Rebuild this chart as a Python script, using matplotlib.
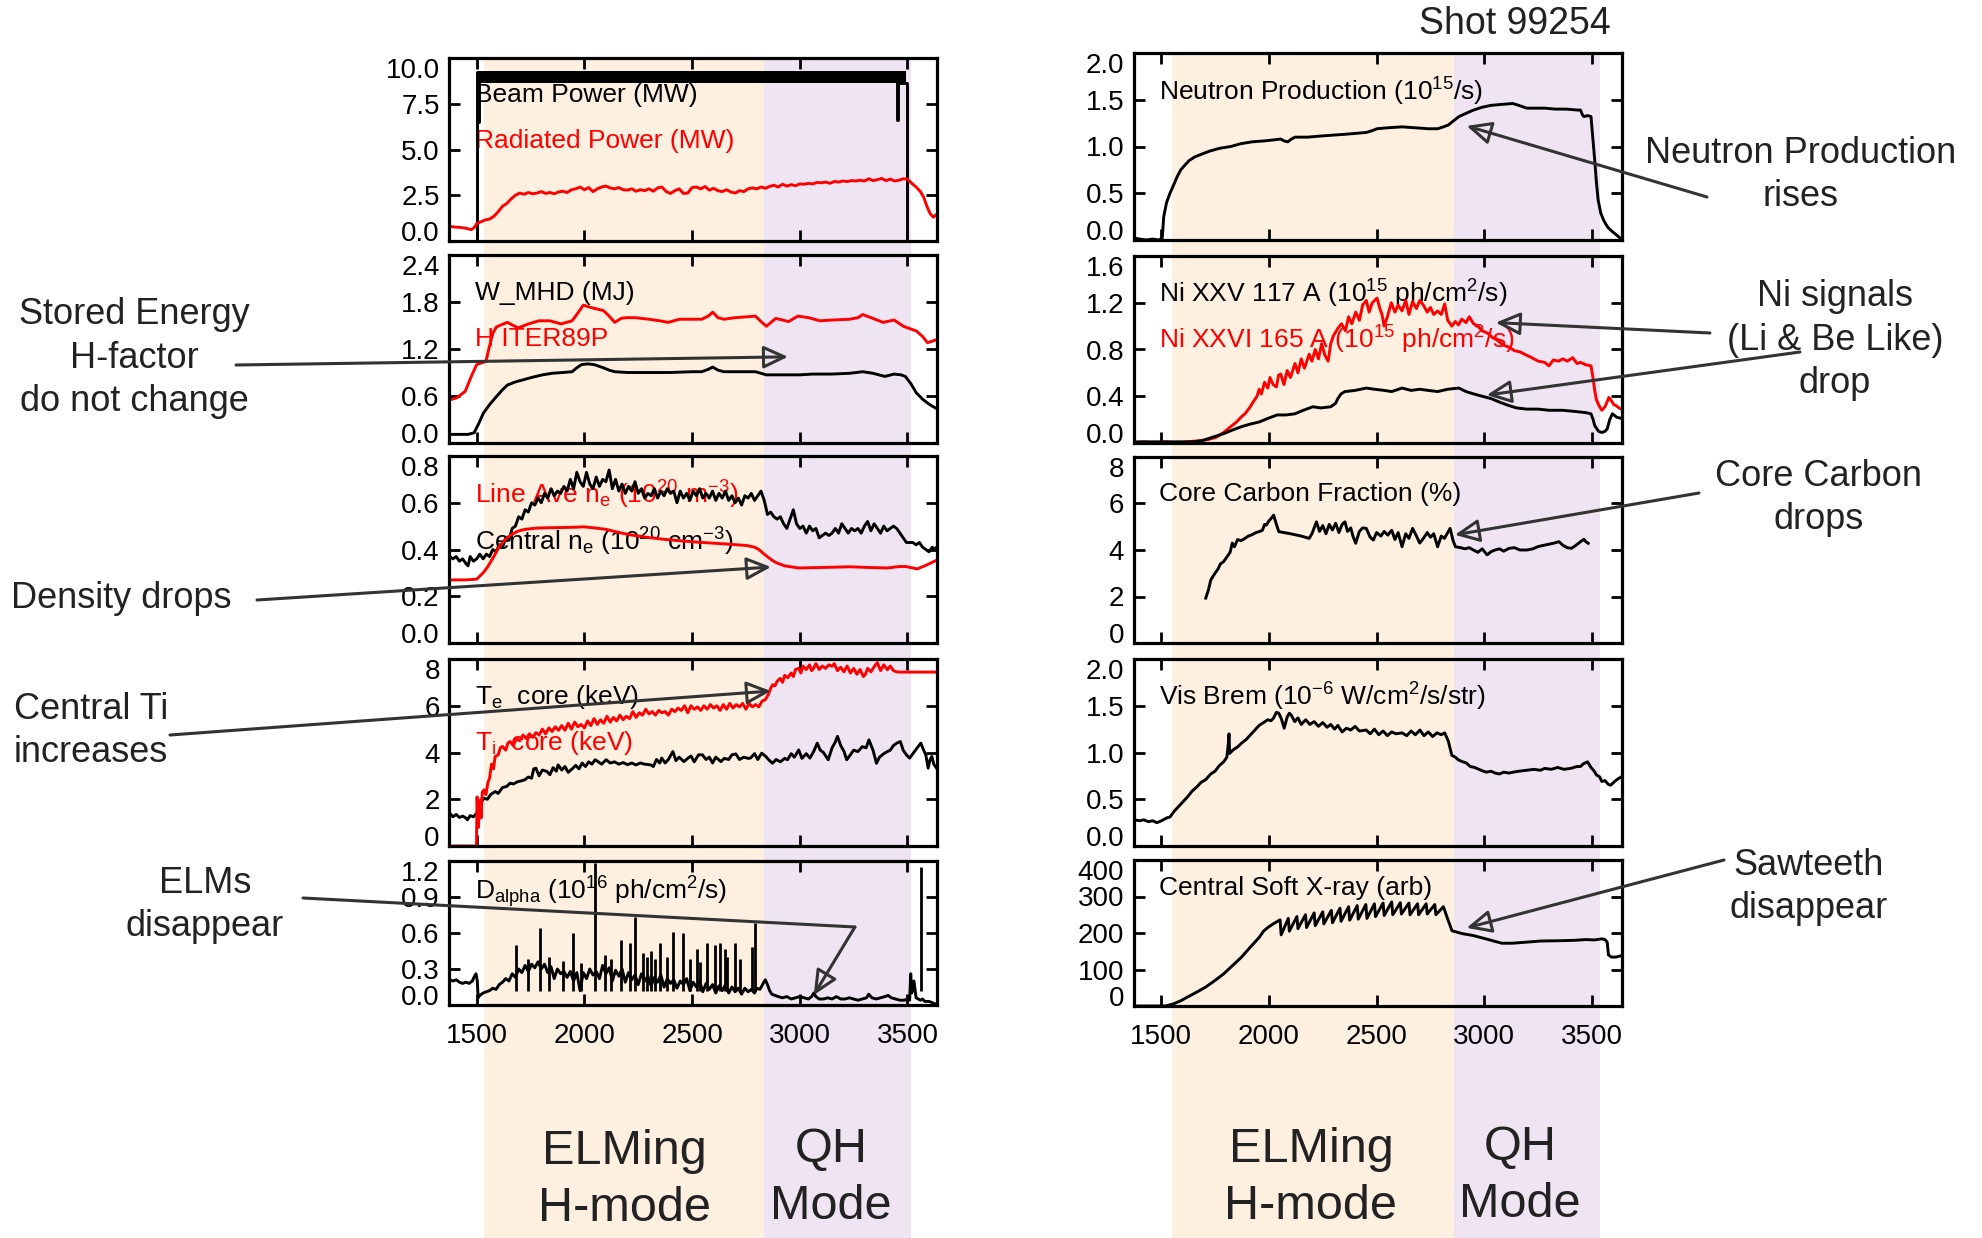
import numpy as np
import matplotlib
matplotlib.use("Agg")
import matplotlib.pyplot as plt
from matplotlib.patches import Rectangle
from matplotlib.transforms import blended_transform_factory

plt.rcParams['font.family'] = ['Liberation Sans', 'DejaVu Sans']
plt.rcParams['mathtext.fontset'] = 'custom'
plt.rcParams['mathtext.rm'] = 'Liberation Sans'
plt.rcParams['mathtext.it'] = 'Liberation Sans'

# ---------------- data (time in ms) ----------------
shot = 99254
xticks = [1500, 2000, 2500, 3000, 3500]

# phase bands (ELMing H-mode start, QH start, QH end) for each column
bands_left = [1532, 2834, 3516]
bands_right = [1549, 2857, 3539]

# beam power (MW): envelope of fast modulation + on/off edges
beam_t = [1374, 1500, 1500, 1504, 1504, 1510, 1510, 3452, 3452, 3458, 3458, 3496, 3496, 3637]
beam_p = [0, 0, 9.25, 9.25, 6.5, 6.5, 9.25, 9.25, 6.6, 6.6, 8.65, 8.65, 0, 0]
beam_on = [1512, 3494]
beam_lo, beam_hi = 8.62, 9.3

rad_power = [(1375,0.80),(1400,0.76),(1425,0.74),(1450,0.70),(1475,0.62),(1490,0.75),(1500,0.95),(1520,1.05),
    (1540,1.15),(1560,1.20),(1580,1.35),(1600,1.60),(1620,1.90),(1640,2.05),(1660,2.30),(1680,2.50),(1700,2.62),
    (1720,2.55),(1740,2.65),(1760,2.58),(1780,2.62),(1800,2.70),(1820,2.60),(1840,2.65),(1860,2.58),(1880,2.68),
    (1900,2.72),(1920,2.65),(1940,2.80),(1960,2.85),(1980,2.95),(2000,2.80),(2020,2.92),(2040,2.70),(2060,2.85),
    (2080,2.95),(2100,3.00),(2120,2.90),(2140,2.85),(2160,2.92),(2180,2.80),(2200,2.78),(2220,2.85),(2240,2.72),
    (2260,2.80),(2280,2.75),(2300,2.85),(2320,2.72),(2340,2.90),(2360,2.95),(2380,2.70),(2400,2.60),(2420,2.75),
    (2440,2.85),(2460,2.60),(2480,2.62),(2500,2.92),(2520,2.95),(2540,2.85),(2560,2.98),(2580,2.78),(2600,2.88),
    (2620,2.75),(2640,2.70),(2660,2.80),(2680,2.68),(2700,2.62),(2720,2.75),(2740,2.70),(2760,2.85),(2780,2.90),
    (2800,2.85),(2820,2.95),(2840,2.88),(2860,2.98),(2880,3.05),(2900,2.95),(2920,3.10),(2940,3.00),(2960,3.08),
    (2980,3.02),(3000,3.12),(3020,3.10),(3040,3.15),(3060,3.12),(3080,3.20),(3100,3.18),(3120,3.22),(3140,3.15),
    (3160,3.25),(3180,3.22),(3200,3.28),(3220,3.25),(3240,3.30),(3260,3.28),(3280,3.32),(3300,3.28),(3320,3.40),
    (3340,3.30),(3360,3.35),(3380,3.42),(3400,3.30),(3420,3.38),(3440,3.28),(3460,3.32),(3480,3.40),(3500,3.38),
    (3520,3.15),(3540,2.95),(3560,2.70),(3575,2.40),(3590,1.90),(3605,1.50),(3620,1.30),(3635,1.45)]

w_mhd = [(1375,0.11),(1420,0.11),(1460,0.11),(1488,0.13),(1510,0.25),(1531,0.38),(1560,0.49),(1591,0.59),
    (1620,0.68),(1643,0.74),(1680,0.78),(1720,0.81),(1760,0.84),(1806,0.87),(1850,0.89),(1900,0.90),(1943,0.91),
    (1965,0.96),(1986,1.00),(2015,1.01),(2046,1.00),(2089,0.96),(2115,0.93),(2141,0.91),(2200,0.90),(2287,0.90),
    (2400,0.90),(2500,0.91),(2545,0.91),(2575,0.94),(2596,0.97),(2620,0.93),(2648,0.91),(2700,0.91),(2750,0.91),
    (2794,0.91),(2820,0.89),(2845,0.87),(2900,0.87),(3000,0.87),(3060,0.88),(3150,0.88),(3232,0.89),(3292,0.91),
    (3340,0.89),(3395,0.85),(3438,0.88),(3470,0.87),(3490,0.85),(3515,0.76),(3541,0.64),(3570,0.56),(3593,0.51),
    (3615,0.47),(3635,0.44)]

h_iter89 = [(1375,0.55),(1410,0.58),(1447,0.66),(1475,0.85),(1500,1.00),(1520,1.02),(1543,1.04),(1560,1.24),
    (1575,1.40),(1591,1.48),(1615,1.51),(1643,1.54),(1670,1.50),(1694,1.47),(1740,1.52),(1789,1.56),(1840,1.56),
    (1892,1.52),(1943,1.56),(1970,1.66),(1995,1.76),(2029,1.73),(2060,1.71),(2089,1.69),(2115,1.62),(2141,1.54),
    (2170,1.59),(2192,1.60),(2235,1.60),(2300,1.58),(2350,1.56),(2390,1.54),(2441,1.58),(2500,1.58),(2545,1.58),
    (2575,1.62),(2596,1.67),(2620,1.60),(2648,1.58),(2700,1.60),(2750,1.61),(2794,1.62),(2820,1.55),(2845,1.49),
    (2888,1.59),(2920,1.57),(2948,1.55),(2991,1.62),(3040,1.60),(3094,1.56),(3150,1.57),(3232,1.58),(3270,1.60),
    (3292,1.64),(3340,1.59),(3387,1.54),(3438,1.57),(3481,1.49),(3541,1.43),(3570,1.36),(3593,1.28),(3615,1.30),
    (3635,1.32)]

ne_central = [(1375,0.37),(1390,0.36),(1405,0.37),(1420,0.35),(1435,0.36),(1450,0.34),(1460,0.33),(1470,0.37),
    (1485,0.35),(1500,0.36),(1515,0.38),(1530,0.36),(1545,0.38),(1560,0.37),(1575,0.40),(1590,0.39),(1605,0.42),
    (1620,0.41),(1635,0.45),(1650,0.44),(1665,0.49),(1680,0.50),(1695,0.54),(1710,0.53),(1725,0.57),(1740,0.56),
    (1755,0.60),(1770,0.59),(1785,0.62),(1800,0.60),(1815,0.64),(1830,0.62),(1845,0.66),(1860,0.63),(1875,0.65),
    (1890,0.64),(1905,0.67),(1920,0.65),(1935,0.70),(1950,0.66),(1965,0.73),(1980,0.69),(1995,0.67),(2010,0.73),
    (2025,0.68),(2040,0.66),(2055,0.71),(2070,0.67),(2085,0.70),(2100,0.69),(2115,0.74),(2130,0.66),(2145,0.70),
    (2160,0.65),(2175,0.68),(2190,0.64),(2205,0.67),(2220,0.65),(2235,0.69),(2250,0.64),(2265,0.66),(2280,0.62),
    (2295,0.64),(2310,0.63),(2325,0.66),(2340,0.62),(2355,0.65),(2370,0.63),(2385,0.66),(2400,0.64),(2415,0.65),
    (2430,0.60),(2445,0.65),(2460,0.62),(2475,0.64),(2490,0.61),(2505,0.65),(2520,0.63),(2535,0.66),(2550,0.62),
    (2565,0.64),(2580,0.62),(2595,0.65),(2610,0.61),(2625,0.64),(2640,0.62),(2655,0.65),(2670,0.61),(2685,0.63),
    (2700,0.60),(2715,0.62),(2730,0.59),(2745,0.63),(2760,0.62),(2775,0.64),(2790,0.61),(2805,0.63),(2820,0.65),
    (2835,0.61),(2850,0.55),(2865,0.56),(2880,0.54),(2895,0.53),(2910,0.54),(2925,0.51),(2940,0.49),(2955,0.53),
    (2970,0.57),(2985,0.51),(3000,0.49),(3015,0.50),(3030,0.47),(3045,0.50),(3060,0.48),(3075,0.49),(3090,0.45),
    (3105,0.46),(3120,0.47),(3135,0.46),(3150,0.47),(3165,0.49),(3180,0.47),(3195,0.51),(3210,0.49),(3225,0.47),
    (3240,0.49),(3255,0.48),(3270,0.49),(3285,0.47),(3300,0.50),(3315,0.52),(3330,0.48),(3345,0.51),(3360,0.49),
    (3375,0.47),(3390,0.50),(3405,0.48),(3420,0.49),(3435,0.50),(3450,0.49),(3465,0.47),(3480,0.45),(3495,0.43),
    (3510,0.43),(3525,0.43),(3540,0.42),(3555,0.43),(3570,0.41),(3585,0.40),(3600,0.39),(3615,0.41),(3625,0.40),
    (3635,0.41)]

ne_line = [(1375,0.27),(1450,0.27),(1500,0.273),(1530,0.30),(1552,0.327),(1580,0.37),(1603,0.41),(1630,0.44),
    (1655,0.46),(1690,0.478),(1723,0.486),(1770,0.491),(1826,0.493),(1900,0.494),(1950,0.495),(1998,0.497),
    (2050,0.492),(2101,0.486),(2150,0.475),(2205,0.464),(2290,0.452),(2376,0.443),(2460,0.436),(2548,0.43),
    (2650,0.424),(2754,0.417),(2790,0.41),(2810,0.40),(2835,0.38),(2857,0.364),(2875,0.352),(2892,0.343),
    (2930,0.33),(2995,0.321),(3100,0.323),(3235,0.326),(3320,0.323),(3407,0.321),(3460,0.327),(3493,0.327),
    (3520,0.322),(3545,0.317),(3580,0.33),(3610,0.343),(3635,0.354)]

ti_core = [(1375,0.0),(1499,0.0),(1502,2.1),(1506,1.0),(1509,0.8),(1513,1.8),(1517,1.97),(1521,1.2),(1526,2.3),
    (1534,2.4),(1543,2.2),(1552,2.7),(1560,2.9),(1569,3.5),(1578,3.3),(1586,3.83),(1600,3.9),(1610,4.2),(1620,4.26),
    (1635,4.1),(1645,4.4),(1655,4.47),(1670,4.3),(1685,4.6),(1700,4.5),(1715,4.75),(1730,4.6),(1745,4.8),(1760,4.65),
    (1775,4.85),(1790,4.75),(1805,5.0),(1820,4.8),(1835,5.05),(1850,4.9),(1865,5.1),(1880,4.95),(1895,5.15),
    (1910,4.95),(1925,5.25),(1940,5.0),(1955,5.3),(1970,5.1),(1985,5.2),(2000,5.05),(2015,5.35),(2030,5.15),
    (2045,5.45),(2060,5.2),(2075,5.4),(2090,5.25),(2105,5.55),(2120,5.3),(2135,5.5),(2150,5.35),(2165,5.6),
    (2180,5.4),(2195,5.55),(2210,5.45),(2225,5.75),(2240,5.5),(2255,5.7),(2270,5.6),(2285,5.85),(2300,5.65),
    (2315,5.75),(2330,5.6),(2345,5.8),(2360,5.7),(2375,5.75),(2390,5.6),(2405,5.85),(2420,5.75),(2435,5.9),
    (2450,5.8),(2465,6.0),(2480,5.7),(2495,6.0),(2510,5.85),(2525,5.95),(2540,5.8),(2555,6.0),(2570,5.85),
    (2585,6.05),(2600,5.9),(2615,6.0),(2630,5.8),(2645,6.05),(2660,5.85),(2675,6.1),(2690,5.9),(2705,6.05),
    (2720,5.95),(2735,6.1),(2750,5.85),(2765,6.1),(2780,5.95),(2795,6.05),(2810,5.95),(2825,6.2),(2840,6.26),
    (2855,6.5),(2865,6.75),(2874,6.9),(2885,6.85),(2895,7.05),(2909,7.17),(2920,7.0),(2930,7.3),(2945,7.2),
    (2960,7.4),(2970,7.25),(2980,7.55),(2995,7.6),(3005,7.4),(3015,7.7),(3030,7.55),(3045,7.75),(3055,7.5),
    (3064,7.6),(3075,7.8),(3090,7.55),(3105,7.7),(3120,7.6),(3135,7.75),(3149,7.69),(3160,7.8),(3175,7.5),
    (3190,7.65),(3205,7.45),(3220,7.7),(3235,7.4),(3250,7.6),(3265,7.35),(3280,7.55),(3295,7.25),(3304,7.33),
    (3315,7.6),(3330,7.45),(3347,7.69),(3360,7.85),(3375,7.5),(3390,7.75),(3407,7.54),(3420,7.7),(3435,7.5),
    (3450,7.45),(3460,7.44),(3635,7.44)]

te_core = [(1375,1.40),(1390,1.25),(1405,1.35),(1420,1.22),(1435,1.28),(1450,1.20),(1457,1.12),(1470,1.30),
    (1485,1.25),(1500,1.40),(1515,1.80),(1534,2.04),(1550,2.00),(1565,2.20),(1586,2.33),(1600,2.25),(1620,2.50),
    (1640,2.55),(1655,2.69),(1670,2.65),(1690,2.75),(1705,2.78),(1723,2.83),(1740,2.95),(1755,2.90),(1765,3.30),
    (1775,3.33),(1790,3.00),(1805,3.25),(1826,3.19),(1840,3.05),(1855,3.35),(1870,3.20),(1878,3.47),(1895,3.25),
    (1910,3.40),(1925,3.15),(1947,3.33),(1960,3.45),(1975,3.30),(1990,3.55),(2005,3.40),(2020,3.60),(2035,3.50),
    (2050,3.69),(2065,3.60),(2080,3.50),(2101,3.69),(2120,3.55),(2140,3.60),(2160,3.50),(2180,3.57),(2200,3.48),
    (2220,3.55),(2239,3.47),(2260,3.55),(2280,3.50),(2308,3.47),(2320,3.40),(2335,3.70),(2350,3.55),(2359,3.76),
    (2375,3.55),(2390,3.70),(2411,4.04),(2425,3.65),(2440,3.80),(2462,3.61),(2480,3.75),(2495,3.85),(2510,3.60),
    (2530,3.90),(2548,3.90),(2565,3.70),(2580,3.80),(2595,3.55),(2610,3.80),(2634,3.61),(2650,3.75),(2670,3.70),
    (2685,3.90),(2703,3.94),(2720,3.70),(2740,3.80),(2760,3.75),(2771,3.76),(2790,3.95),(2805,3.70),(2823,3.97),
    (2840,3.85),(2860,3.65),(2874,3.54),(2890,3.70),(2910,3.60),(2930,3.75),(2943,3.69),(2960,3.95),(2975,3.80),
    (2995,4.11),(3010,3.75),(3030,3.95),(3047,3.76),(3065,4.05),(3081,4.40),(3095,4.10),(3110,4.00),(3132,3.69),
    (3150,4.20),(3165,4.45),(3175,4.69),(3190,4.30),(3205,4.05),(3218,3.69),(3235,3.90),(3250,4.10),(3270,4.04),
    (3290,4.25),(3308,4.20),(3321,4.54),(3340,4.10),(3356,3.54),(3370,3.80),(3390,3.95),(3407,4.04),(3420,4.10),
    (3435,4.30),(3450,4.40),(3467,4.47),(3480,4.10),(3495,3.90),(3510,3.76),(3525,3.95),(3545,4.20),(3562,4.40),
    (3575,4.10),(3585,3.90),(3596,3.33),(3605,3.70),(3613,3.83),(3622,3.50),(3635,3.33)]

d_alpha = [(1375,0.21),(1390,0.20),(1405,0.21),(1420,0.19),(1435,0.18),(1450,0.19),(1465,0.18),(1480,0.20),
    (1490,0.24),(1497,0.26),(1503,0.20),(1507,0.06),(1515,0.08),(1530,0.10),(1545,0.11),(1560,0.12),(1575,0.14),
    (1590,0.13),(1605,0.17),(1620,0.19),(1635,0.22),(1650,0.20),(1665,0.26),(1680,0.23),(1695,0.30),(1710,0.27),
    (1725,0.33),(1740,0.28),(1755,0.34),(1770,0.31),(1785,0.36),(1800,0.30),(1815,0.34),(1830,0.27),(1845,0.32),
    (1860,0.22),(1875,0.30),(1890,0.26),(1905,0.28),(1920,0.23),(1935,0.28),(1950,0.20),(1965,0.27),(1980,0.12),
    (1995,0.27),(2010,0.22),(2025,0.30),(2040,0.25),(2055,0.28),(2070,0.22),(2085,0.33),(2100,0.26),(2115,0.31),
    (2130,0.20),(2145,0.29),(2160,0.24),(2175,0.30),(2190,0.19),(2205,0.27),(2220,0.21),(2235,0.25),(2250,0.17),
    (2265,0.26),(2280,0.20),(2295,0.24),(2310,0.16),(2325,0.23),(2340,0.19),(2355,0.25),(2370,0.15),(2385,0.22),
    (2400,0.18),(2415,0.21),(2430,0.14),(2445,0.20),(2460,0.17),(2475,0.22),(2490,0.12),(2505,0.19),(2520,0.15),
    (2535,0.20),(2550,0.11),(2565,0.18),(2580,0.13),(2595,0.17),(2610,0.10),(2625,0.16),(2640,0.12),(2655,0.17),
    (2670,0.10),(2685,0.15),(2700,0.11),(2715,0.14),(2730,0.09),(2745,0.14),(2760,0.11),(2775,0.13),(2790,0.10),
    (2800,0.14),(2815,0.13),(2830,0.18),(2840,0.21),(2850,0.17),(2860,0.12),(2870,0.09),(2885,0.08),(2900,0.07),
    (2920,0.06),(2940,0.07),(2960,0.05),(2980,0.06),(3000,0.07),(3020,0.06),(3040,0.05),(3055,0.07),(3065,0.10),
    (3075,0.07),(3090,0.05),(3110,0.05),(3130,0.06),(3150,0.05),(3170,0.07),(3190,0.05),(3210,0.05),(3230,0.06),
    (3250,0.05),(3270,0.04),(3290,0.05),(3310,0.06),(3320,0.09),(3335,0.06),(3355,0.05),(3375,0.06),(3395,0.07),
    (3410,0.08),(3425,0.06),(3445,0.05),(3465,0.04),(3485,0.04),(3500,0.05),(3510,0.04),(3515,0.26),(3520,0.10),
    (3530,0.20),(3540,0.06),(3550,0.05),(3560,0.04),(3570,0.05),(3580,0.03),(3600,0.03),(3615,0.02),(3625,0.01),
    (3635,0.01)]

# ELM spikes: time, peak height
elm_t = [1684, 1737, 1792, 1838, 1900, 1946, 1985, 2048, 2095, 2126, 2172, 2211, 2234, 2272, 2292, 2311, 2330,
         2350, 2383, 2411, 2457, 2490, 2522, 2537, 2568, 2606, 2629, 2652, 2660, 2698, 2721, 2777, 2791, 3562]
elm_h = [0.50, 0.38, 0.64, 0.40, 0.37, 0.60, 0.35, 1.18, 0.42, 0.38, 0.54, 0.52, 0.73, 0.43, 0.40, 0.45, 0.38,
         0.52, 0.40, 0.61, 0.60, 0.38, 0.47, 0.36, 0.52, 0.50, 0.52, 0.47, 0.40, 0.52, 0.38, 0.48, 0.68, 1.15]

neutron = [(1376,0.02),(1400,0.01),(1430,0.00),(1460,0.01),(1490,0.00),(1505,0.02),(1512,0.25),(1525,0.40),
    (1541,0.50),(1560,0.60),(1575,0.68),(1591,0.75),(1610,0.80),(1630,0.85),(1657,0.89),(1690,0.92),(1724,0.95),
    (1770,0.98),(1823,1.00),(1870,1.03),(1922,1.05),(1980,1.06),(2020,1.07),(2055,1.08),(2070,1.06),(2088,1.05),
    (2105,1.08),(2121,1.10),(2180,1.10),(2230,1.11),(2287,1.12),(2350,1.13),(2400,1.14),(2452,1.15),(2480,1.17),
    (2502,1.19),(2550,1.20),(2618,1.21),(2680,1.20),(2740,1.19),(2783,1.19),(2810,1.21),(2833,1.23),(2860,1.28),
    (2882,1.32),(2920,1.36),(2950,1.39),(2990,1.42),(3031,1.44),(3080,1.45),(3131,1.46),(3160,1.44),(3197,1.41),
    (3240,1.41),(3280,1.41),(3330,1.40),(3380,1.40),(3430,1.39),(3446,1.39),(3455,1.34),(3462,1.32),(3480,1.33),
    (3495,1.32),(3503,1.10),(3512,0.86),(3520,0.62),(3528,0.43),(3540,0.29),(3552,0.22),(3561,0.18),(3575,0.13),
    (3594,0.09),(3610,0.06),(3625,0.03),(3638,0.01)]

ni_xxv = [(1376,0.01),(1450,0.01),(1550,0.01),(1650,0.01),(1690,0.02),(1740,0.05),(1790,0.08),(1830,0.11),
    (1873,0.14),(1910,0.16),(1955,0.18),(1995,0.21),(2038,0.24),(2080,0.24),(2121,0.25),(2160,0.28),(2204,0.31),
    (2240,0.30),(2287,0.31),(2310,0.34),(2320,0.38),(2335,0.42),(2353,0.44),(2400,0.45),(2452,0.47),(2490,0.46),
    (2535,0.45),(2570,0.44),(2618,0.47),(2660,0.45),(2700,0.46),(2740,0.45),(2783,0.44),(2830,0.46),(2882,0.47),
    (2915,0.44),(2950,0.42),(2990,0.40),(3031,0.38),(3070,0.35),(3114,0.32),(3150,0.30),(3197,0.29),(3250,0.29),
    (3300,0.28),(3363,0.28),(3420,0.27),(3470,0.26),(3495,0.25),(3505,0.20),(3512,0.15),(3530,0.10),(3545,0.09),
    (3560,0.10),(3570,0.12),(3582,0.20),(3594,0.25),(3615,0.22),(3636,0.21)]

ni_xxvi = [(1376,0.00),(1420,0.01),(1470,0.00),(1520,0.01),(1570,0.00),(1620,0.01),(1680,0.02),(1720,0.03),
    (1757,0.05),(1790,0.09),(1823,0.14),(1850,0.18),(1870,0.22),(1889,0.25),(1910,0.30),(1930,0.36),(1945,0.40),
    (1955,0.46),(1965,0.42),(1980,0.52),(1995,0.47),(2005,0.56),(2020,0.50),(2035,0.48),(2045,0.58),(2055,0.59),
    (2070,0.50),(2085,0.62),(2100,0.56),(2121,0.68),(2135,0.60),(2150,0.72),(2165,0.64),(2187,0.76),(2200,0.70),
    (2215,0.80),(2230,0.72),(2245,0.85),(2260,0.75),(2275,0.70),(2287,0.85),(2300,0.92),(2320,0.98),(2337,1.02),
    (2355,0.96),(2370,1.08),(2385,1.02),(2403,1.12),(2420,1.05),(2435,1.18),(2452,1.22),(2465,1.12),(2480,1.20),
    (2502,1.24),(2515,1.15),(2525,1.10),(2535,1.00),(2550,1.08),(2568,1.20),(2585,1.12),(2600,1.18),(2618,1.13),
    (2635,1.22),(2650,1.10),(2667,1.21),(2685,1.15),(2700,1.22),(2717,1.18),(2735,1.12),(2750,1.16),(2765,1.10),
    (2783,1.13),(2800,1.10),(2816,1.19),(2830,1.05),(2849,1.00),(2865,1.04),(2880,1.01),(2895,1.06),(2915,1.03),
    (2930,1.08),(2950,1.02),(2970,1.00),(2990,0.96),(3015,0.94),(3040,0.90),(3060,0.88),(3085,0.84),(3114,0.82),
    (3140,0.79),(3165,0.78),(3197,0.75),(3220,0.73),(3250,0.70),(3280,0.69),(3300,0.66),(3320,0.71),(3345,0.70),
    (3363,0.72),(3385,0.70),(3410,0.73),(3430,0.68),(3446,0.69),(3470,0.67),(3495,0.66),(3505,0.55),(3512,0.45),
    (3520,0.37),(3532,0.32),(3545,0.28),(3560,0.31),(3578,0.39),(3590,0.36),(3600,0.33),(3611,0.32),(3625,0.30),
    (3636,0.29)]

carbon = [(1707,1.93),(1720,2.30),(1730,2.70),(1740,2.86),(1750,3.00),(1765,3.20),(1775,3.40),(1790,3.50),
    (1805,3.70),(1820,3.90),(1830,4.30),(1840,4.14),(1855,4.45),(1870,4.40),(1889,4.50),(1905,4.60),(1920,4.65),
    (1940,4.75),(1955,4.79),(1970,4.85),(1980,5.10),(1988,5.07),(2000,5.25),(2010,5.35),(2022,5.50),(2035,5.10),
    (2046,4.79),(2100,4.70),(2150,4.60),(2187,4.50),(2200,4.70),(2210,4.95),(2221,5.21),(2235,4.80),(2250,5.05),
    (2265,4.70),(2280,5.10),(2295,4.86),(2310,5.15),(2325,4.75),(2340,5.10),(2353,5.21),(2365,4.80),(2380,4.95),
    (2390,4.60),(2403,4.29),(2420,4.80),(2435,4.95),(2452,4.93),(2470,4.55),(2485,4.43),(2500,4.75),(2520,4.60),
    (2535,4.80),(2552,4.64),(2570,4.85),(2585,4.45),(2600,4.75),(2618,4.14),(2635,4.70),(2650,4.50),(2667,4.93),
    (2685,4.60),(2700,4.30),(2717,4.50),(2735,4.75),(2750,4.55),(2765,4.70),(2783,4.14),(2800,4.60),(2815,4.50),
    (2830,4.75),(2841,4.93),(2855,4.40),(2866,4.14),(2890,4.10),(2910,4.05),(2930,4.10),(2949,4.00),(2970,3.90),
    (2990,4.05),(3013,3.79),(3031,3.93),(3050,4.00),(3070,4.05),(3090,3.95),(3114,4.07),(3140,4.10),(3165,4.00),
    (3197,4.00),(3225,4.05),(3250,4.15),(3280,4.21),(3300,4.25),(3325,4.30),(3346,4.36),(3365,4.20),(3385,4.10),
    (3404,4.07),(3425,4.20),(3445,4.35),(3462,4.46),(3472,4.35),(3482,4.29)]

vis_brem = [(1376,0.28),(1400,0.27),(1420,0.28),(1440,0.26),(1460,0.27),(1480,0.25),(1492,0.26),(1510,0.28),
    (1525,0.30),(1541,0.31),(1560,0.37),(1580,0.42),(1600,0.47),(1624,0.53),(1645,0.59),(1665,0.63),(1685,0.68),
    (1707,0.71),(1730,0.77),(1750,0.80),(1770,0.86),(1790,0.90),(1805,0.95),(1812,1.10),(1815,1.20),(1818,0.99),
    (1835,1.03),(1855,1.06),(1873,1.10),(1895,1.14),(1915,1.19),(1935,1.24),(1955,1.29),(1975,1.32),(1995,1.35),
    (2010,1.34),(2022,1.37),(2035,1.43),(2046,1.42),(2058,1.36),(2071,1.26),(2085,1.38),(2095,1.42),(2104,1.40),
    (2120,1.33),(2135,1.37),(2150,1.30),(2171,1.35),(2190,1.30),(2210,1.33),(2230,1.28),(2250,1.32),(2270,1.27),
    (2287,1.30),(2305,1.25),(2320,1.29),(2340,1.22),(2360,1.26),(2380,1.24),(2400,1.28),(2420,1.23),(2452,1.24),
    (2470,1.20),(2490,1.25),(2510,1.19),(2530,1.23),(2550,1.18),(2570,1.22),(2590,1.20),(2618,1.21),(2640,1.18),
    (2660,1.23),(2680,1.19),(2701,1.24),(2720,1.18),(2740,1.22),(2760,1.17),(2780,1.21),(2800,1.19),(2816,1.21),
    (2833,1.12),(2849,0.97),(2865,0.95),(2880,0.92),(2900,0.90),(2915,0.89),(2935,0.85),(2955,0.84),(2975,0.82),
    (2995,0.80),(3010,0.79),(3031,0.80),(3050,0.78),(3070,0.77),(3090,0.79),(3114,0.78),(3135,0.79),(3160,0.80),
    (3197,0.81),(3230,0.82),(3260,0.81),(3280,0.83),(3310,0.82),(3340,0.84),(3370,0.82),(3400,0.83),(3430,0.85),
    (3446,0.85),(3460,0.88),(3479,0.90),(3495,0.84),(3510,0.80),(3520,0.76),(3535,0.74),(3545,0.69),(3560,0.70),
    (3575,0.66),(3586,0.65),(3600,0.68),(3615,0.71),(3636,0.74)]

sxr = [(1376,0),(1450,0),(1520,0),(1558,6),(1590,14),(1624,25),(1665,38),(1707,52),(1750,70),(1790,88),
    (1830,110),(1873,134),(1915,162),(1955,188),(1975,205),(1995,215),(2020,225),(2040,232),(2052,236),
    (2057,195),(2090,240),(2095,205),(2130,245),(2135,212),(2170,250),(2175,215),(2210,255),(2215,220),
    (2250,258),(2255,225),(2290,262),(2295,228),(2330,268),(2335,232),(2370,272),(2375,235),(2410,275),
    (2415,238),(2450,278),(2455,240),(2490,280),(2495,245),(2530,282),(2535,248),(2570,285),(2575,250),
    (2610,283),(2615,252),(2650,282),(2655,250),(2690,280),(2695,250),(2730,280),(2735,252),(2770,278),
    (2775,250),(2810,272),(2830,238),(2850,206),(2900,198),(2949,193),(3000,185),(3081,172),(3130,172),
    (3197,175),(3260,178),(3363,179),(3420,180),(3470,182),(3512,181),(3545,184),(3560,182),(3570,175),
    (3576,140),(3590,134),(3611,134),(3636,138)]


def split(pairs):
    a = np.array(pairs, dtype=float)
    return a[:, 0], a[:, 1]


# ---------------- layout ----------------
W, H = 1983, 1238
fig = plt.figure(figsize=(W / 100, H / 100), dpi=100)
orange = '#FDF0E0'
purple = '#EFE4F1'
ink = '#222222'
lw = 2.1


def make_ax(x0, x1, y0, y1):
    return fig.add_axes([x0 / W, 1 - y1 / H, (x1 - x0) / W, (y1 - y0) / H], facecolor='none')


left_rows = [(58, 241), (255, 443), (456, 643), (659, 846), (861, 1005)]
right_rows = [(53, 240), (256, 443), (457, 643), (659, 846), (860, 1006)]
axL = [make_ax(449.5, 937, a, b) for a, b in left_rows]
axR = [make_ax(1134, 1621.6, a, b) for a, b in right_rows]


def style(ax, ylim, yticks, fmt, bottom=False):
    ax.set_xlim(1374, 3637)
    ax.set_ylim(*ylim)
    ax.set_xticks(xticks)
    ax.set_yticks(yticks)
    ax.set_yticklabels([fmt.format(v) for v in yticks])
    if not bottom:
        ax.set_xticklabels([])
    ax.tick_params(direction='in', length=8, width=2, top=True, right=True, labelsize=20, colors='black')
    ax.tick_params(axis='y', pad=7)
    ax.tick_params(axis='x', pad=13)
    for s in ax.spines.values():
        s.set_linewidth(2.3)
    # end labels sit inside the axis range, IDL style
    ticks = ax.yaxis.get_major_ticks()
    ticks[0].label1.set_va('baseline')
    ticks[-1].label1.set_va('top')


def label(ax, y, text, color='black'):
    ax.text(0.052, y, text, transform=ax.transAxes, fontsize=19, color=color, va='center', ha='left', zorder=1)


# phase bands behind each column
for col, b in ((axL, bands_left), (axR, bands_right)):
    trans = blended_transform_factory(col[-1].transData, fig.transFigure)
    top = col[0].get_position().y1
    fig.add_artist(Rectangle((b[0], 0), b[1] - b[0], top, transform=trans, facecolor=orange,
                             edgecolor='none', zorder=-1))
    fig.add_artist(Rectangle((b[1], 0), b[2] - b[1], top, transform=trans, facecolor=purple,
                             edgecolor='none', zorder=-1))

# ---- left column ----
ax = axL[0]
ax.fill_between(beam_on, beam_lo, beam_hi, color='black', lw=0)
ax.plot(beam_t, beam_p, color='black', lw=lw)
ax.plot(*split(rad_power), color='red', lw=lw)
label(ax, 0.80, 'Beam Power (MW)')
label(ax, 0.546, 'Radiated Power (MW)', 'red')
style(ax, (0, 10), [0, 2.5, 5, 7.5, 10], '{:.1f}')

ax = axL[1]
ax.plot(*split(w_mhd), color='black', lw=lw)
ax.plot(*split(h_iter89), color='red', lw=lw)
label(ax, 0.80, 'W_MHD (MJ)')
label(ax, 0.553, 'H ITER89P', 'red')
style(ax, (0, 2.4), [0, 0.6, 1.2, 1.8, 2.4], '{:.1f}')

ax = axL[2]
ax.plot(*split(ne_central), color='black', lw=lw)
ax.plot(*split(ne_line), color='red', lw=lw)
label(ax, 0.79, r'Line Ave n$_\mathregular{e}$ (10$^\mathregular{20}$ m$^\mathregular{-3}$)', 'red')
label(ax, 0.54, r'Central n$_\mathregular{e}$ (10$^\mathregular{20}$ cm$^\mathregular{-3}$)')
style(ax, (0, 0.8), [0, 0.2, 0.4, 0.6, 0.8], '{:.1f}')

ax = axL[3]
ax.plot(*split(te_core), color='black', lw=lw)
ax.plot(*split(ti_core), color='red', lw=lw)
label(ax, 0.797, r'T$_\mathregular{e}$  core (keV)')
label(ax, 0.55, r'T$_\mathregular{i}$  core (keV)', 'red')
style(ax, (0, 8), [0, 2, 4, 6, 8], '{:.0f}')

ax = axL[4]
ax.vlines(elm_t, 0.12, elm_h, color='black', lw=2.0)
ax.plot(*split(d_alpha), color='black', lw=lw)
label(ax, 0.785, r'D$_\mathregular{alpha}$ (10$^\mathregular{16}$ ph/cm$^\mathregular{2}$/s)')
style(ax, (0, 1.2), [0, 0.3, 0.6, 0.9, 1.2], '{:.1f}', bottom=True)

# ---- right column ----
ax = axR[0]
ax.plot(*split(neutron), color='black', lw=lw)
label(ax, 0.79, r'Neutron Production (10$^\mathregular{15}$/s)')
style(ax, (0, 2.0), [0, 0.5, 1.0, 1.5, 2.0], '{:.1f}')

ax = axR[1]
ax.plot(*split(ni_xxvi), color='red', lw=lw)
ax.plot(*split(ni_xxv), color='black', lw=lw)
label(ax, 0.80, r'Ni XXV 117 A (10$^\mathregular{15}$ ph/cm$^\mathregular{2}$/s)')
label(ax, 0.55, r'Ni XXVI 165 A (10$^\mathregular{15}$ ph/cm$^\mathregular{2}$/s)', 'red')
style(ax, (0, 1.6), [0, 0.4, 0.8, 1.2, 1.6], '{:.1f}')

ax = axR[2]
ax.plot(*split(carbon), color='black', lw=lw)
label(ax, 0.80, 'Core Carbon Fraction (%)')
style(ax, (0, 8), [0, 2, 4, 6, 8], '{:.0f}')

ax = axR[3]
ax.plot(*split(vis_brem), color='black', lw=lw)
label(ax, 0.80, r'Vis Brem (10$^\mathregular{-6}$ W/cm$^\mathregular{2}$/s/str)')
style(ax, (0, 2.0), [0, 0.5, 1.0, 1.5, 2.0], '{:.1f}')

ax = axR[4]
ax.plot(*split(sxr), color='black', lw=lw)
label(ax, 0.81, 'Central Soft X-ray (arb)')
style(ax, (0, 400), [0, 100, 200, 300, 400], '{:.0f}', bottom=True)

# ---------------- annotations ----------------
arrow = dict(arrowstyle='-|>,head_length=1.5,head_width=0.7', lw=2.2, color='#333333', fc='none',
             shrinkA=0, shrinkB=0)
plain = dict(arrowstyle='-', lw=2.2, color='#333333', shrinkA=0, shrinkB=0)


def fig_xy(px, py):
    return (px / W, 1 - py / H)


def note(ax, tip, start, props=arrow):
    ax.annotate('', xy=tip, xycoords='data', xytext=fig_xy(*start), textcoords='figure fraction',
                arrowprops=props, annotation_clip=False)


def big_text(px, py, s, size=26, ls=1.32):
    fig.text(px / W, 1 - py / H, s, fontsize=size, color=ink, ha='center', va='center',
             multialignment='center', linespacing=ls)


big_text(134, 358, 'Stored Energy\nH-factor\ndo not change')
note(axL[1], (2945, 1.10), (236, 365))
big_text(121, 598, 'Density drops')
note(axL[2], (2866, 0.325), (257, 600))
big_text(91, 731, 'Central Ti\nincreases')
note(axL[3], (2866, 6.63), (170, 735))
big_text(205, 905, 'ELMs\ndisappear')
note(axL[4], (3256, 0.65), (303, 898), plain)
axL[4].annotate('', xy=(3065, 0.083), xytext=(3256, 0.65), arrowprops=arrow, annotation_clip=False)

big_text(1801, 175, 'Neutron Production\nrises')
note(axR[0], (2918, 1.22), (1707, 197))
big_text(1835, 340, 'Ni signals\n(Li & Be Like)\ndrop')
note(axR[1], (3053, 1.03), (1710, 333))
note(axR[1], (3011, 0.41), (1800, 352))
big_text(1819, 498, 'Core Carbon\ndrops')
note(axR[2], (2863, 4.65), (1699, 493))
big_text(1809, 887, 'Sawteeth\ndisappear')
note(axR[4], (2918, 214), (1724, 860))

big_text(1515, 24, 'Shot %d' % shot, size=27)

big_text(624, 1180, 'ELMing\nH-mode', size=35)
big_text(831, 1178, 'QH\nMode', size=35)
big_text(1311, 1178, 'ELMing\nH-mode', size=35)
big_text(1520, 1176, 'QH\nMode', size=35)

fig.savefig('out.png', dpi=100, facecolor='white')
